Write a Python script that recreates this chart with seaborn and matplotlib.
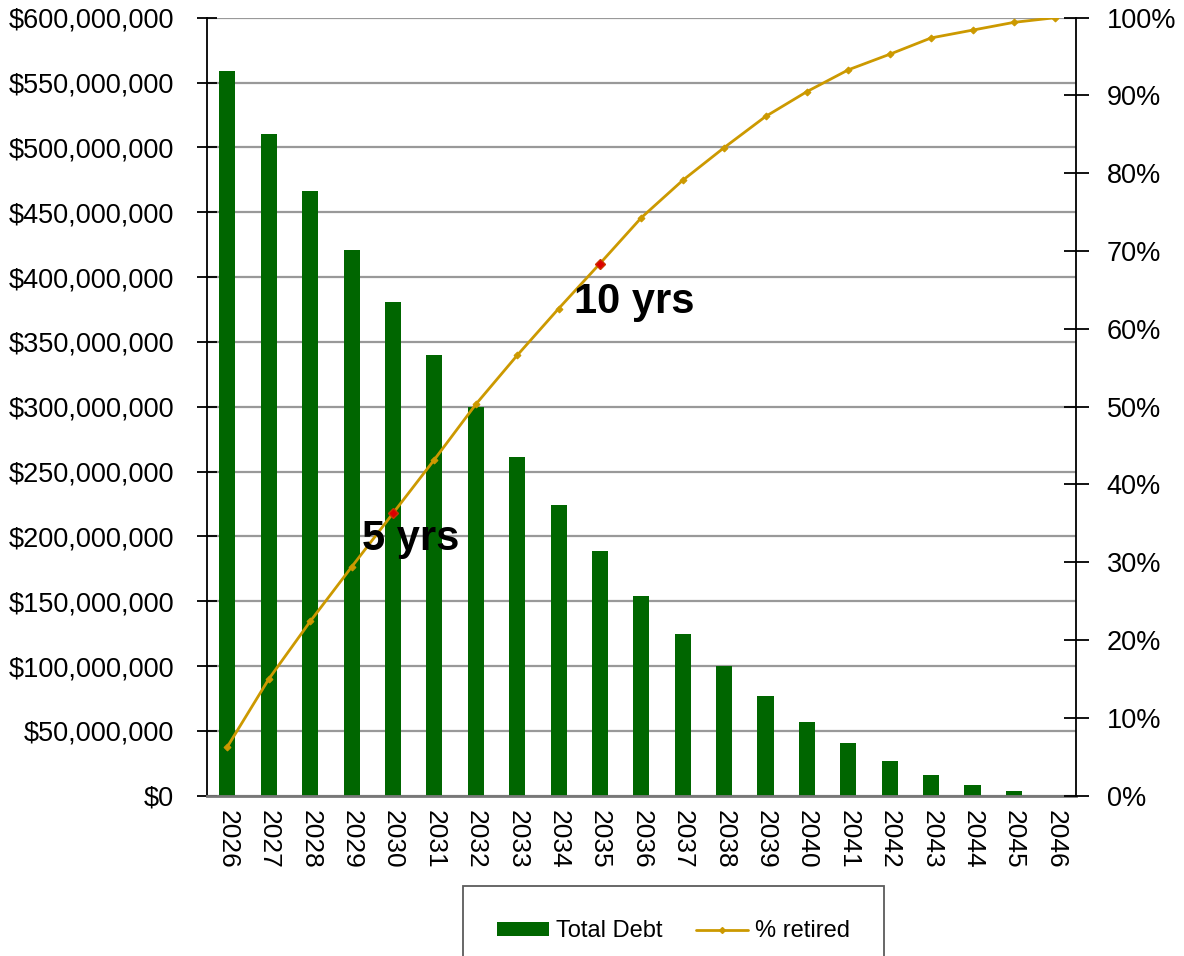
import numpy as np
import pandas as pd
import matplotlib
matplotlib.use('Agg')
import matplotlib.pyplot as plt
import seaborn as sns
from matplotlib.lines import Line2D
from matplotlib.patches import Patch
from matplotlib.ticker import FuncFormatter, MultipleLocator

# Data
years = ['2026', '2027', '2028', '2029', '2030', '2031', '2032', '2033', '2034', '2035', '2036',
         '2037', '2038', '2039', '2040', '2041', '2042', '2043', '2044', '2045', '2046']
total_debt_musd = [559, 510, 466, 421, 381, 340, 300, 261, 224, 189, 154,
                   125, 100, 77, 57, 40.5, 26.6, 16, 8.3, 3.6, 0]
pct_retired = [6.3, 15.0, 22.4, 29.4, 36.3, 43.2, 50.3, 56.6, 62.6, 68.4, 74.3,
               79.1, 83.3, 87.3, 90.5, 93.3, 95.3, 97.4, 98.4, 99.4, 100]
highlight_years = ['2030', '2035']
annotations = [('5 yrs', 3.25, 33.0), ('10 yrs', 8.38, 63.5)]

df = pd.DataFrame({'year': years,
                   'debt': np.array(total_debt_musd) * 1e6,
                   'pct': pct_retired})
df['pos'] = np.arange(len(df))

green = '#006600'
gold = '#CC9900'

sns.set_style("white")
plt.rcParams['font.family'] = ['Liberation Sans', 'DejaVu Sans']
plt.rcParams['text.color'] = 'black'
plt.rcParams['xtick.color'] = 'black'
plt.rcParams['ytick.color'] = 'black'
plt.rcParams['axes.labelcolor'] = 'black'

fig, ax = plt.subplots(figsize=(11.84, 9.56), dpi=100)
fig.subplots_adjust(left=0.1746, right=0.9088, top=0.9815, bottom=0.1677)

# Bars
sns.barplot(data=df, x='year', y='debt', ax=ax, color=green, saturation=1,
            width=0.39, linewidth=0)
ax.set_ylim(0, 600e6)
ax.yaxis.set_major_locator(MultipleLocator(50e6))
ax.yaxis.set_major_formatter(FuncFormatter(lambda v, p: f"${v:,.0f}"))
ax.yaxis.grid(True, color='#999999', linewidth=1.6)
ax.set_axisbelow(True)
ax.set_xlabel('')
ax.set_ylabel('')

# x ticks: labels centered, tick marks at category boundaries
ax.set_xticks(df['pos'])
ax.set_xticklabels(years, rotation=-90, fontsize=19)
ax.set_xticks(np.arange(-0.5, len(df), 1), minor=True)
ax.tick_params(axis='x', which='major', length=0, pad=10)
ax.tick_params(axis='x', which='minor', direction='inout', length=16, width=1.3, color='#333333')
ax.tick_params(axis='y', direction='inout', length=15, width=1.3, pad=16, labelsize=19.5, color='black')

for s in ['top', 'right']:
    ax.spines[s].set_visible(False)
ax.spines['left'].set_color('black')
ax.spines['left'].set_linewidth(1.3)
ax.spines['bottom'].set_color('#777777')
ax.spines['bottom'].set_linewidth(2)

# Line on secondary axis
ax2 = ax.twinx()
sns.lineplot(data=df, x='pos', y='pct', ax=ax2, color=gold, linewidth=2,
             marker='D', markersize=3.5, markeredgecolor=gold)
hl = df[df['year'].isin(highlight_years)]
ax2.plot(hl['pos'], hl['pct'], linestyle='none', marker='D', markersize=5,
         color='#DD0000', markeredgecolor='#CC3300', zorder=5)
ax2.set_ylim(0, 100)
ax2.yaxis.set_major_locator(MultipleLocator(10))
ax2.yaxis.set_major_formatter(FuncFormatter(lambda v, p: f"{v:.0f}%"))
ax2.tick_params(axis='y', direction='inout', length=18, width=1.3, pad=13, labelsize=19.5, color='black')
ax2.set_ylabel('')
ax2.set_xlabel('')
for s in ['top', 'left', 'bottom']:
    ax2.spines[s].set_visible(False)
ax2.spines['right'].set_color('black')
ax2.spines['right'].set_linewidth(1.3)
ax.set_xlim(-0.5, len(df) - 0.5)

for label, x, y in annotations:
    ax2.text(x, y, label, fontsize=30, fontweight='bold', color='black',
             ha='left', va='center', zorder=10)

# Legend
handles = [Patch(facecolor=green, edgecolor='none', label='Total Debt'),
           Line2D([0], [0], color=gold, linewidth=2, marker='D', markersize=3, label='% retired')]
leg = fig.legend(handles=handles, loc='upper left', bbox_to_anchor=(0.391, 0.0732), ncol=2,
                 fontsize=17, frameon=True, fancybox=False, borderpad=1.45, borderaxespad=0,
                 handlelength=2.2, handleheight=0.5, handletextpad=0.3, columnspacing=1.4)
leg.get_frame().set_edgecolor('#333333')
leg.get_frame().set_linewidth(1.3)

plt.savefig('out.png', dpi=100)
plt.close()
